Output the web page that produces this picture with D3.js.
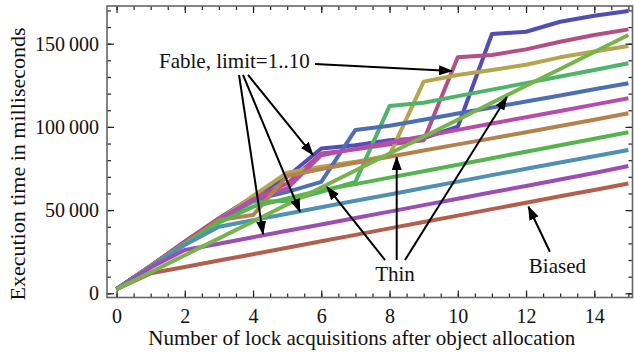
<!DOCTYPE html>
<html>
<head>
<meta charset="utf-8">
<script src="https://cdn.jsdelivr.net/npm/d3@7"></script>
<style>
  body { margin: 0; background: #fff; }
  text { font-family: "Liberation Serif", "Times New Roman", serif; fill: #111; }
</style>
</head>
<body>
<div id="chart"></div>
<script>
// lock acquisitions after allocation
var acquisitions = [0, 1, 2, 3, 4, 5, 6, 7, 8, 9, 10, 11, 12, 13, 14, 15];

// execution time (ms), drawn in this order (limit 10 first, thin last)
var fable10 = [2500, 16500, 31000, 45000, 58000, 70000, 87000, 89000, 92000, 93200, 100100, 155800, 157200, 163200, 166800, 169700];
var fable9  = [2500, 16500, 31000, 45000, 57000, 66000, 84000, 86500, 89500, 92000, 141800, 143200, 146600, 151200, 155200, 158600];
var fable8  = [2500, 16000, 30000, 44000, 58500, 72500, 76000, 79000, 83000, 127200, 131200, 134200, 137300, 141800, 145300, 148600];
var fable7  = [2500, 16000, 30000, 43500, 55000, 55500, 61000, 67000, 112500, 114500, 118500, 122400, 126300, 130300, 134200, 138200];
var fable6  = [2500, 16500, 30500, 44000, 56000, 61000, 67000, 98200, 100700, 104300, 108000, 111600, 115300, 118900, 122600, 126200];
var fable5  = [2500, 16500, 30500, 44000, 56500, 63000, 83000, 86800, 90600, 94400, 98200, 102000, 105800, 109600, 113400, 117200];
var fable4  = [2500, 16500, 30000, 44000, 47000, 70500, 74700, 78400, 82100, 85800, 89500, 93100, 96800, 100500, 104300, 108200];
var fable3  = [2500, 16000, 29500, 42500, 52000, 57000, 62000, 65600, 69500, 73400, 77300, 81200, 85100, 89000, 92900, 96800];
var fable2  = [2500, 16000, 29000, 40000, 43900, 47800, 51700, 55600, 59400, 63300, 67100, 71000, 74800, 78600, 82400, 86100];
var fable1  = [2500, 15500, 26000, 29800, 33700, 37600, 41400, 45300, 49100, 53000, 56800, 60700, 64500, 68400, 72300, 76500];
var biased  = [2500, 12000, 15800, 19700, 23500, 27400, 31300, 35100, 39000, 42800, 46700, 50600, 54400, 58300, 62100, 66000];
var thin    = [2500, 12700, 22900, 33000, 43200, 53400, 63600, 73800, 84000, 94100, 104300, 114500, 124700, 134800, 145000, 155200];

var seriesList = [fable10, fable9, fable8, fable7, fable6, fable5, fable4, fable3, fable2, fable1, biased, thin];
var colors = ["#504eb4", "#b44e87", "#b4a54e", "#4eb469", "#4e6eb4", "#b44eaa",
              "#b4824e", "#55b44e", "#4e91b4", "#9b4eb4", "#b45f4e", "#76b44e"];

var xTicks = [0, 2, 4, 6, 8, 10, 12, 14];
var yTicks = [0, 50000, 100000, 150000];

var width = 634, height = 352;
var plotL = 107, plotR = 632.5, plotT = 6, plotB = 297.5;

var svg = d3.select("#chart").append("svg")
    .attr("width", width)
    .attr("height", height);

var x = d3.scaleLinear().domain([-0.28, 15.12]).range([plotL, plotR]);
var y = d3.scaleLinear().domain([-2520, 172650]).range([plotB, plotT]);

var fmt = function(d) { return d3.format(",")(d).replace(/,/g, "\u2009"); };

// lines
var line = d3.line()
    .x(function(d, i) { return x(acquisitions[i]); })
    .y(function(d) { return y(d); });

seriesList.forEach(function(s, i) {
    svg.append("path")
        .datum(s)
        .attr("fill", "none")
        .attr("stroke", colors[i])
        .attr("stroke-width", 4)
        .attr("stroke-linejoin", "round")
        .attr("d", line);
});

// frame with inward ticks
function tidy(g) {
    g.select(".domain").remove();
    g.selectAll(".tick line").attr("stroke", "#222").attr("stroke-width", 1.2);
    g.selectAll("text").attr("font-size", "20px").attr("fill", "#111")
        .attr("font-family", "Liberation Serif, serif");
}
var minorX = d3.range(0, 15.01, 0.5);
var minorY = d3.range(0, 170001, 10000);

svg.append("g").attr("transform", "translate(0," + plotB + ")")
    .call(d3.axisBottom(x).tickValues(minorX).tickSize(-4).tickFormat("")).call(tidy);
svg.append("g").attr("transform", "translate(0," + plotB + ")")
    .call(d3.axisBottom(x).tickValues(xTicks).tickSize(-7).tickPadding(11)).call(tidy);
svg.append("g").attr("transform", "translate(0," + plotT + ")")
    .call(d3.axisTop(x).tickValues(minorX).tickSize(-4).tickFormat("")).call(tidy);
svg.append("g").attr("transform", "translate(0," + plotT + ")")
    .call(d3.axisTop(x).tickValues(xTicks).tickSize(-7).tickFormat("")).call(tidy);

svg.append("g").attr("transform", "translate(" + plotL + ",0)")
    .call(d3.axisLeft(y).tickValues(minorY).tickSize(-4).tickFormat("")).call(tidy);
svg.append("g").attr("transform", "translate(" + plotL + ",0)")
    .call(d3.axisLeft(y).tickValues(yTicks).tickSize(-7).tickPadding(8).tickFormat(fmt)).call(tidy);
svg.append("g").attr("transform", "translate(" + plotR + ",0)")
    .call(d3.axisRight(y).tickValues(minorY).tickSize(-4).tickFormat("")).call(tidy);
svg.append("g").attr("transform", "translate(" + plotR + ",0)")
    .call(d3.axisRight(y).tickValues(yTicks).tickSize(-7).tickFormat("")).call(tidy);

svg.append("rect")
    .attr("x", plotL).attr("y", plotT)
    .attr("width", plotR - plotL).attr("height", plotB - plotT)
    .attr("fill", "none").attr("stroke", "#666").attr("stroke-width", 1.6);

// axis titles
svg.append("text")
    .attr("x", (plotL + plotR) / 2 - 8).attr("y", 345)
    .attr("text-anchor", "middle").attr("font-size", "21px")
    .text("Number of lock acquisitions after object allocation");
svg.append("text")
    .attr("transform", "translate(25,164) rotate(-90)")
    .attr("text-anchor", "middle").attr("font-size", "22px")
    .text("Execution time in milliseconds");

// annotations
svg.append("defs").append("marker")
    .attr("id", "head")
    .attr("markerUnits", "userSpaceOnUse")
    .attr("markerWidth", 14).attr("markerHeight", 10)
    .attr("refX", 13).attr("refY", 5)
    .attr("orient", "auto")
  .append("path")
    .attr("d", "M0,0L14,5L0,10Z")
    .attr("fill", "#000");

var labels = [
    {text: "Fable, limit=1..10", x: 1.245, y: 135400, anchor: "start"},
    {text: "Thin", x: 8.16, y: 7400, anchor: "middle"},
    {text: "Biased", x: 12.92, y: 12000, anchor: "middle"}
];
var arrows = [
    [5.816, 137800, 9.83, 133600],
    [3.589, 131200, 4.292, 35600],
    [3.706, 131200, 5.376, 48900],
    [3.853, 131200, 5.757, 83100],
    [7.867, 20000, 6.167, 63900],
    [8.21, 20000, 8.21, 81900],
    [8.453, 20000, 11.44, 118000],
    [12.70, 25000, 12.07, 52000]
];

arrows.forEach(function(a) {
    svg.append("line")
        .attr("x1", x(a[0])).attr("y1", y(a[1]))
        .attr("x2", x(a[2])).attr("y2", y(a[3]))
        .attr("stroke", "#000").attr("stroke-width", 2)
        .attr("marker-end", "url(#head)");
});

labels.forEach(function(l) {
    svg.append("text")
        .attr("x", x(l.x)).attr("y", y(l.y))
        .attr("text-anchor", l.anchor)
        .attr("font-size", "21px")
        .text(l.text);
});
</script>
</body>
</html>
